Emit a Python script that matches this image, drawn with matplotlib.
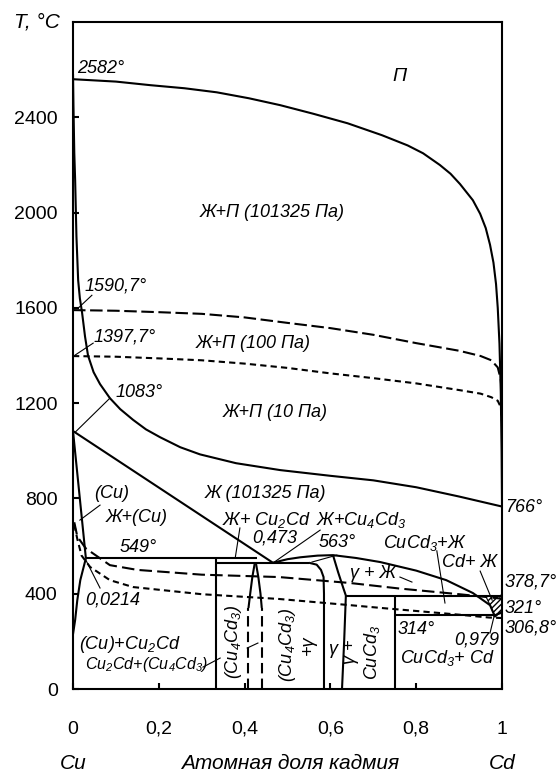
import matplotlib
matplotlib.use("Agg")
import matplotlib.pyplot as plt

plt.rcParams['font.family'] = ['Liberation Sans', 'DejaVu Sans']
plt.rcParams['mathtext.fontset'] = 'custom'
plt.rcParams['mathtext.rm'] = 'Liberation Sans:italic'
plt.rcParams['mathtext.it'] = 'Liberation Sans:italic'

# Data: x = atomic fraction of Cd, y = temperature, deg C

# boiling / condensation at 101325 Pa
vap_x = [0, 0.1, 0.18, 0.26, 0.335, 0.41, 0.483, 0.56, 0.64, 0.72, 0.78, 0.816, 0.855,
         0.88, 0.902, 0.932, 0.949, 0.962, 0.972, 0.98, 0.986, 0.99, 0.994, 0.997, 0.999, 1.0]
vap_y = [2560, 2550, 2535, 2522, 2505, 2480, 2451, 2415, 2375, 2325, 2282, 2249, 2200,
         2163, 2120, 2052, 1995, 1935, 1865, 1790, 1700, 1600, 1450, 1250, 1000, 766]
boil_x = [0, 0.001, 0.003, 0.005, 0.008, 0.012, 0.016, 0.021, 0.028, 0.035, 0.048, 0.063,
          0.086, 0.11, 0.14, 0.17, 0.203, 0.25, 0.296, 0.38, 0.483, 0.6, 0.7, 0.8, 0.9, 1.0]
boil_y = [2582, 2450, 2250, 2136, 1900, 1716, 1640, 1582, 1480, 1400, 1330, 1280,
          1221, 1175, 1130, 1090, 1057, 1015, 985, 948, 919, 895, 876, 847, 808, 766]

# boiling at 100 Pa and 10 Pa
p100_x = [0, 0.1, 0.2, 0.3, 0.4, 0.5, 0.6, 0.7, 0.8, 0.9, 0.95, 0.975, 0.99, 0.997, 1.0, 1.0]
p100_y = [1590.7, 1588, 1582, 1575, 1560, 1537, 1515, 1487, 1452, 1420, 1398, 1380, 1350, 1300, 1220, 766]
p10_x = [0, 0.1, 0.2, 0.3, 0.4, 0.5, 0.6, 0.7, 0.8, 0.9, 0.95, 0.975, 0.99, 0.998, 1.0, 1.0]
p10_y = [1397.7, 1395, 1388, 1380, 1366, 1348, 1325, 1305, 1283, 1255, 1240, 1225, 1210, 1180, 1120, 766]

# condensed part
solidus_x = [0, 0.03]
solidus_y = [1083, 549]
liq_left_x = [0, 0.466]
liq_left_y = [1083, 530]
liq_right_x = [0.466, 0.5, 0.53, 0.57, 0.606, 0.66, 0.716, 0.8, 0.87, 0.932, 0.972, 0.984]
liq_right_y = [530, 545, 553, 560, 562, 550, 533, 497, 457, 403, 352, 302]
solvus_x = [0.03, 0.017, 0.01, 0.005, 0.0]
solvus_y = [549, 457, 373, 290, 230]

# (Cu4Cd3) homogeneity range: solid upper part, dashed lower part
cu4_left_x = [0.424, 0.418, 0.413, 0.409]
cu4_left_y = [532, 470, 400, 340]
cu4_right_x = [0.426, 0.432, 0.437, 0.44]
cu4_right_y = [532, 470, 400, 340]
cu4_dash_x = [0.409, 0.44]
cu4_dash_top = 340
gamma_left_x = [0.55, 0.568, 0.578, 0.584, 0.585, 0.585]
gamma_left_y = [530, 522, 500, 470, 400, 0]
gamma_right_x = [0.606, 0.618, 0.63, 0.636, 0.632, 0.627]
gamma_right_y = [562, 490, 424, 392, 200, 0]

# pressure-dependent liquid boundaries in the condensed region
ld_x = [0.003, 0.01, 0.03, 0.05, 0.086, 0.15, 0.3, 0.48, 0.646, 0.76, 0.9, 0.97, 1.0]
ld_y = [700, 640, 590, 565, 520, 500, 480, 470, 445, 422, 398, 385, 379]
sd_x = [0.003, 0.01, 0.02, 0.04, 0.086, 0.14, 0.3, 0.48, 0.646, 0.72, 0.9, 0.97, 1.0]
sd_y = [690, 630, 560, 512, 457, 428, 398, 378, 352, 340, 312, 300, 298]

hatch_x = [0.962, 1.0, 1.0, 0.984, 0.974]
hatch_y = [390, 390, 330, 302, 345]

x_ticks = [0, 0.2, 0.4, 0.6, 0.8, 1.0]
x_tick_labels = ['0', '0,2', '0,4', '0,6', '0,8', '1']
y_ticks = [0, 400, 800, 1200, 1600, 2000, 2400]

LW = 1.5
THIN = 0.8
FS = 13


def initialise_figure():
    fig = plt.figure(figsize=(5.59, 7.76), dpi=100)
    ax = fig.add_axes([0.1306, 0.1121, 0.7675, 0.8595])
    ax.set_xlim(0, 1)
    ax.set_ylim(0, 2800)
    return fig, ax


def draw_lines(ax):
    k = dict(color='black', lw=LW, solid_capstyle='butt')
    ax.plot(vap_x, vap_y, **k)
    ax.plot(boil_x, boil_y, **k)
    ax.plot(p100_x, p100_y, dashes=(6, 2.2), **k)
    ax.plot(p10_x, p10_y, dashes=(3, 2), **k)

    ax.plot(solidus_x, solidus_y, **k)
    ax.plot(liq_left_x, liq_left_y, **k)
    ax.plot(liq_right_x, liq_right_y, **k)
    ax.plot(solvus_x, solvus_y, **k)
    ax.plot([0.979, 1.0], [306.8, 321], **k)

    ax.plot([0.03, 0.43], [549, 549], **k)
    ax.plot([0.333, 0.55], [530, 530], **k)
    ax.plot([0.636, 1.0], [390, 390], **k)
    ax.plot([0.75, 0.984], [310, 310], **k)
    ax.plot([0.333, 0.333], [0, 549], **k)
    ax.plot([0.75, 0.75], [0, 390], **k)

    ax.plot(cu4_left_x, cu4_left_y, **k)
    ax.plot(cu4_right_x, cu4_right_y, **k)
    for xd in cu4_dash_x:
        ax.plot([xd, xd], [0, cu4_dash_top], dashes=(5, 2.5), **k)
    ax.plot(gamma_left_x, gamma_left_y, **k)
    ax.plot(gamma_right_x, gamma_right_y, **k)

    ax.plot(ld_x, ld_y, dashes=(6, 2.5), **k)
    ax.plot(sd_x, sd_y, dashes=(3, 2), **k)

    ax.fill(hatch_x, hatch_y, facecolor='none', edgecolor='black', hatch='//////', lw=0.8)


def pointer(ax, x0, y0, x1, y1):
    ax.plot([x0, x1], [y0, y1], color='black', lw=THIN)


def draw_pointers(ax):
    pointer(ax, 0.012, 1599, 0.044, 1653)
    pointer(ax, 0.005, 1402, 0.047, 1452)
    pointer(ax, 0.005, 1078, 0.086, 1221)
    pointer(ax, 0.016, 709, 0.063, 772)
    pointer(ax, 0.03, 541, 0.063, 424)
    pointer(ax, 0.389, 676, 0.378, 549)
    pointer(ax, 0.466, 529, 0.576, 667)
    pointer(ax, 0.615, 562, 0.557, 533)
    pointer(ax, 0.762, 470, 0.79, 449)
    pointer(ax, 0.848, 580, 0.867, 361)
    pointer(ax, 0.949, 495, 0.977, 373)
    pointer(ax, 1.005, 420, 0.995, 385)
    pointer(ax, 0.972, 235, 0.981, 302)
    pointer(ax, 0.303, 92, 0.343, 130)
    pointer(ax, 0.406, 172, 0.431, 193)


def label(ax, x, y, text, ha='center', size=FS, rotation=0):
    ax.text(x, y, text, ha=ha, va='center', fontsize=size, style='italic',
            rotation=rotation, rotation_mode='anchor', multialignment='center')


def draw_labels(ax):
    label(ax, 0.01, 2606, '2582°', ha='left')
    label(ax, 0.762, 2572, 'П', size=14)
    label(ax, 0.464, 2002, 'Ж+П (101325 Па)')
    label(ax, 0.028, 1691, '1590,7°', ha='left')
    label(ax, 0.047, 1477, '1397,7°', ha='left')
    label(ax, 0.42, 1452, 'Ж+П (100 Па)')
    label(ax, 0.098, 1246, '1083°', ha='left')
    label(ax, 0.471, 1162, 'Ж+П (10 Па)')
    label(ax, 0.448, 822, 'Ж (101325 Па)')
    label(ax, 0.091, 822, '(Cu)')
    label(ax, 0.149, 718, 'Ж+(Cu)')
    label(ax, 0.152, 596, '549°')
    label(ax, 0.028, 373, '0,0214', ha='left')
    label(ax, 0.452, 709, r'Ж+ Cu$_2$Cd')
    label(ax, 0.672, 709, r'Ж+Cu$_4$Cd$_3$')
    label(ax, 0.471, 634, '0,473')
    label(ax, 0.615, 613, '563°')
    label(ax, 0.82, 613, r'CuCd$_3$+Ж')
    label(ax, 0.925, 533, 'Cd+ Ж')
    label(ax, 0.70, 487, 'γ + Ж')
    label(ax, 1.007, 449, '378,7°', ha='left')
    label(ax, 1.007, 340, '321°', ha='left')
    label(ax, 1.007, 256, '306,8°', ha='left')
    label(ax, 1.007, 760, '766°', ha='left')
    label(ax, 0.942, 206, '0,979')
    label(ax, 0.80, 248, '314°')
    label(ax, 0.872, 130, r'CuCd$_3$+ Cd')
    label(ax, 0.133, 185, r'(Cu)+Cu$_2$Cd')
    label(ax, 0.172, 101, r'Cu$_2$Cd+(Cu$_4$Cd$_3$)', size=11.5)
    label(ax, 0.375, 197, r'(Cu$_4$Cd$_3$)', rotation=90)
    label(ax, 0.522, 185, '(Cu$_4$Cd$_3$)\n+γ', rotation=90)
    label(ax, 0.604, 164, 'γ')
    label(ax, 0.674, 155, 'γ +\nCuCd$_3$', rotation=90)


def set_peripherals(fig, ax):
    for spine in ax.spines.values():
        spine.set_linewidth(LW)
    ax.set_xticks(x_ticks)
    ax.set_xticklabels(x_tick_labels)
    ax.set_yticks(y_ticks)
    ax.tick_params(direction='in', length=4, width=LW, labelsize=14)
    ax.tick_params(axis='x', pad=23)
    ax.tick_params(axis='y', pad=11)
    tr = ax.get_xaxis_transform()
    kw = dict(fontsize=15, style='italic', ha='center', va='center', transform=tr)
    ax.text(0, -0.111, 'Cu', **kw)
    ax.text(1, -0.111, 'Cd', **kw)
    ax.text(0.506, -0.111, 'Атомная доля кадмия', **kw)
    fig.text(0.066, 0.972, 'T, °C', fontsize=15, style='italic', ha='center', va='center')


fig, ax = initialise_figure()
draw_lines(ax)
draw_pointers(ax)
draw_labels(ax)
set_peripherals(fig, ax)
fig.savefig('out.png', dpi=100)
